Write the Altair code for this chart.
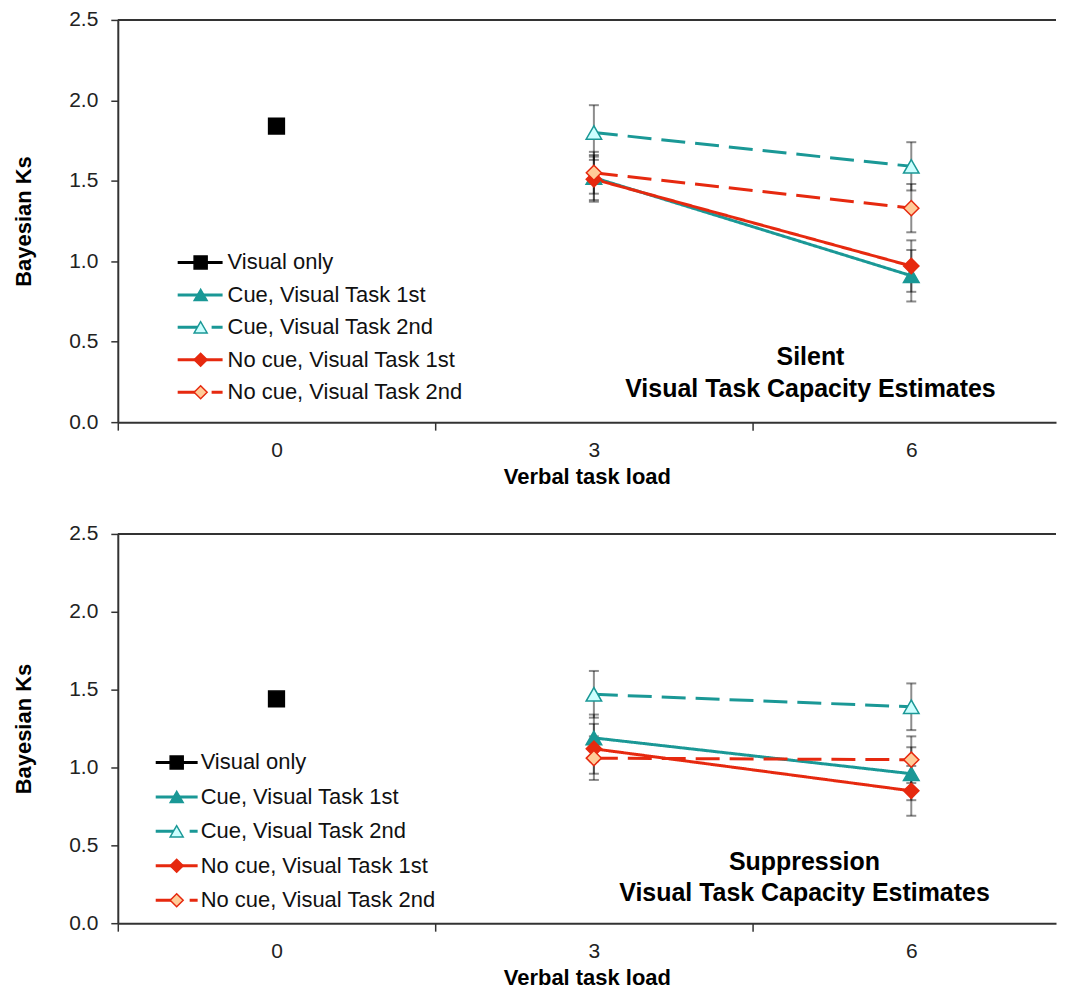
import altair as alt
import pandas as pd

# ---------------- data ----------------
series = ["Visual only", "Cue, Visual Task 1st", "Cue, Visual Task 2nd",
          "No cue, Visual Task 1st", "No cue, Visual Task 2nd"]
dual_loads = [3, 6]
visual_only_load = [0]

# Silent panel
silent_visual_only = [1.84]
silent_cue_1st = [1.52, 0.91]
silent_cue_2nd = [1.80, 1.59]
silent_nocue_1st = [1.51, 0.97]
silent_nocue_2nd = [1.55, 1.33]
silent_err_cue_1st = [0.14, 0.16]
silent_err_cue_2nd = [0.17, 0.15]
silent_err_nocue_1st = [0.14, 0.16]
silent_err_nocue_2nd = [0.13, 0.15]

# Suppression panel
supp_visual_only = [1.44]
supp_cue_1st = [1.19, 0.96]
supp_cue_2nd = [1.47, 1.39]
supp_nocue_1st = [1.12, 0.85]
supp_nocue_2nd = [1.06, 1.05]
supp_err_cue_1st = [0.15, 0.17]
supp_err_cue_2nd = [0.15, 0.15]
supp_err_nocue_1st = [0.16, 0.16]
supp_err_nocue_2nd = [0.14, 0.15]

panel_titles = {
    "silent": ["Silent", "Visual Task Capacity Estimates"],
    "supp": ["Suppression", "Visual Task Capacity Estimates"],
}

# ---------------- styles ----------------
TEAL = "#1a9896"
RED = "#e6290f"
stroke_colors = ["#000000", TEAL, TEAL, RED, RED]
fill_colors = ["#000000", TEAL, "#ccffff", RED, "#ffcc99"]
shapes = ["square", "triangle-up", "triangle-up", "diamond", "diamond"]
sizes = [250, 230, 230, 210, 210]
dashes = [[1, 0], [1, 0], [24, 10], [1, 0], [24, 10]]
FONT = "Liberation Sans"


def build_df(vo, c1, c2, n1, n2, e1, e2, e3, e4):
    rows = []
    rows.append(dict(series=series[0], load=visual_only_load[0], value=vo[0], err=None))
    for name, vals, errs in [(series[1], c1, e1), (series[2], c2, e2),
                             (series[3], n1, e3), (series[4], n2, e4)]:
        for ld, v, e in zip(dual_loads, vals, errs):
            rows.append(dict(series=name, load=ld, value=v, err=e))
    df = pd.DataFrame(rows)
    df["lo"] = df["value"] - df["err"]
    df["hi"] = df["value"] + df["err"]
    return df


silent_df = build_df(silent_visual_only, silent_cue_1st, silent_cue_2nd, silent_nocue_1st,
                     silent_nocue_2nd, silent_err_cue_1st, silent_err_cue_2nd,
                     silent_err_nocue_1st, silent_err_nocue_2nd)
supp_df = build_df(supp_visual_only, supp_cue_1st, supp_cue_2nd, supp_nocue_1st,
                   supp_nocue_2nd, supp_err_cue_1st, supp_err_cue_2nd,
                   supp_err_nocue_1st, supp_err_nocue_2nd)

legend_df = pd.DataFrame({"series": series, "row": list(range(len(series)))})

W = 940
PX_PER_UNIT = 106.0
X_MIN = -1.5
X_MAX = X_MIN + W / PX_PER_UNIT
HALF_BAND = 1.5 * PX_PER_UNIT

color_scale = alt.Scale(domain=series, range=stroke_colors)
fill_scale = alt.Scale(domain=series, range=fill_colors)
shape_scale = alt.Scale(domain=series, range=shapes)
size_scale = alt.Scale(domain=series, range=sizes)
dash_scale = alt.Scale(domain=series, range=dashes)


def panel(df, height, titles, title_x, title_y, title_lh, leg):
    x_scale = alt.Scale(domain=[X_MIN, X_MAX], nice=False, zero=False)
    y_scale = alt.Scale(domain=[0, 2.5], nice=False)
    x_axis = alt.Axis(values=[-1.5, 1.5, 4.5], labelExpr="format(datum.value + 1.5, 'd')",
                      labelOffset=HALF_BAND, tickSize=8, labelPadding=9, grid=False,
                      title="Verbal task load", titlePadding=6, labelFlush=False)
    y_axis = alt.Axis(values=[0, 0.5, 1.0, 1.5, 2.0, 2.5], format=".1f", tickSize=7,
                      labelPadding=13, grid=False, title="Bayesian Ks", titlePadding=33)

    base = alt.Chart(df)
    X = alt.X("load:Q", scale=x_scale, axis=x_axis)
    Y = alt.Y("value:Q", scale=y_scale, axis=y_axis)

    err = base.transform_filter("isValid(datum.err)").mark_rule(
        color="black", opacity=0.45, strokeWidth=2
    ).encode(x=X, y=alt.Y("lo:Q"), y2="hi:Q")

    caps = base.transform_filter("isValid(datum.err)").transform_fold(
        ["lo", "hi"], as_=["end", "pos"]
    ).mark_tick(orient="horizontal", color="black", opacity=0.45, thickness=2, size=10).encode(
        x=X, y=alt.Y("pos:Q"))

    lines = base.mark_line(strokeWidth=3).encode(
        x=X, y=Y,
        color=alt.Color("series:N", scale=color_scale, legend=None),
        strokeDash=alt.StrokeDash("series:N", scale=dash_scale, legend=None),
        detail="series:N",
    )

    points = base.mark_point(filled=True, opacity=1, strokeWidth=1.5).encode(
        x=X, y=Y,
        fill=alt.Fill("series:N", scale=fill_scale, legend=None),
        stroke=alt.Stroke("series:N", scale=color_scale, legend=None),
        shape=alt.Shape("series:N", scale=shape_scale, legend=None),
        size=alt.Size("series:N", scale=size_scale, legend=None),
    )

    border = alt.Chart(pd.DataFrame({"v": [2.5]})).mark_rule(
        color="#333333", strokeWidth=2).encode(y=alt.Y("v:Q"))

    title = alt.Chart(pd.DataFrame({"v": [0]})).mark_text(
        font=FONT, fontSize=25, fontWeight="bold", align="center", baseline="alphabetic",
        lineHeight=title_lh, color="black"
    ).encode(x=alt.value(title_x), y=alt.value(title_y), text=alt.value(titles))

    main = alt.layer(err, caps, lines, points, border, title)

    # legend built from the series list
    lx0, lx1, lmark, ltext, ly0, ly1 = leg
    LY = alt.Y("row:Q", scale=alt.Scale(domain=[0, len(series) - 1], range=[ly0, ly1]), axis=None)
    lbase = alt.Chart(legend_df)
    leg_lines = lbase.mark_rule(strokeWidth=3).encode(
        x=alt.value(lx0), x2=alt.value(lx1), y=LY,
        color=alt.Color("series:N", scale=color_scale, legend=None),
        strokeDash=alt.StrokeDash("series:N", scale=dash_scale, legend=None),
    )
    leg_pts = lbase.mark_point(filled=True, opacity=1, strokeWidth=1.5).encode(
        x=alt.value(lmark), y=LY,
        fill=alt.Fill("series:N", scale=fill_scale, legend=None),
        stroke=alt.Stroke("series:N", scale=color_scale, legend=None),
        shape=alt.Shape("series:N", scale=shape_scale, legend=None),
        size=alt.value(170),
    )
    leg_text = lbase.mark_text(font=FONT, fontSize=22, align="left", baseline="middle",
                               color="#111111").encode(
        x=alt.value(ltext), y=LY, text="series:N")
    legend = alt.layer(leg_lines, leg_pts, leg_text)

    return alt.layer(main, legend).resolve_scale(y="independent").properties(
        width=W, height=height)


top = panel(silent_df, 403, panel_titles["silent"], 694, 346, 32,
            (60, 105, 83, 110, 243, 373))
bottom = panel(supp_df, 390, panel_titles["supp"], 688, 337, 31,
               (38, 80, 59, 83, 229, 367))

chart = alt.vconcat(top, bottom, spacing=36).properties(
    padding={"left": 4, "top": 0, "right": 0, "bottom": 0}
).configure_view(stroke=None).configure_axis(
    labelFont=FONT, titleFont=FONT, labelFontSize=21, titleFontSize=22,
    titleFontWeight="bold", labelColor="#222222", titleColor="black",
    domainColor="#333333", domainWidth=2, tickColor="#333333", tickWidth=1.5,
)

chart.save("out.html", embed_options={"renderer": "svg", "actions": False})
